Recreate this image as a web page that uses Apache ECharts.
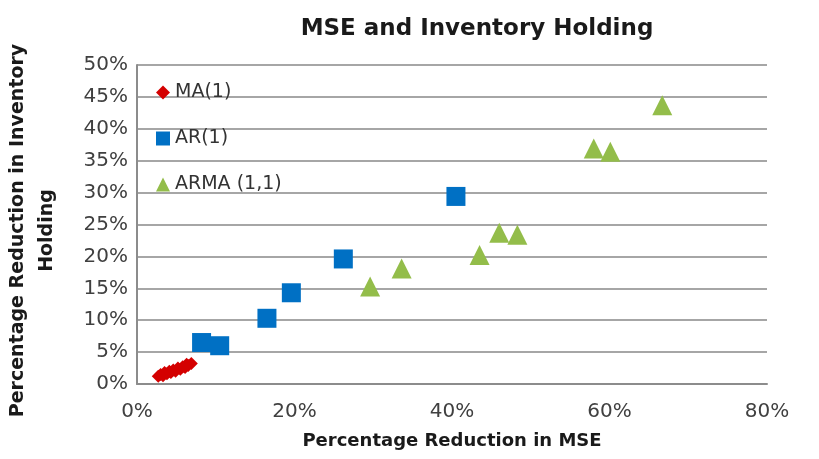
<!DOCTYPE html>
<html>
<head>
<meta charset="utf-8">
<script src="https://cdn.jsdelivr.net/npm/echarts@6/dist/echarts.min.js"></script>
<style>
html,body{margin:0;padding:0;background:#fff;}
#chart{width:819px;height:459px;}
</style>
</head>
<body>
<div id="chart"></div>
<script>
var titleText = 'MSE and Inventory Holding';
var xAxisName = 'Percentage Reduction in MSE';
var yAxisName = 'Percentage Reduction in Inventory\nHolding';
var seriesNames = ['MA(1)', 'AR(1)', 'ARMA (1,1)'];
var ma1 = [[2.7,1.2],[3.0,1.5],[3.3,1.3],[3.5,1.8],[3.8,1.6],[4.1,2.0],[4.3,1.8],[4.6,2.2],[4.9,2.0],[5.2,2.5],[5.5,2.3],[5.8,2.7],[6.1,2.6],[6.5,2.9],[6.9,3.2],[6.3,3.1]];
var ar1 = [[8.2,6.5],[10.5,6.0],[16.5,10.3],[19.6,14.3],[26.2,19.6],[40.5,29.4]];
var arma11 = [[29.6,15.3],[33.6,18.1],[43.5,20.2],[46.0,23.7],[48.3,23.4],[58.0,36.9],[60.1,36.4],[66.7,43.7]];

var font = 'DejaVu Sans';
var chart = echarts.init(document.getElementById('chart'));
chart.setOption({
  animation: false,
  backgroundColor: '#fff',
  title: {
    text: titleText, left: 472, top: 13, textAlign: 'center',
    textStyle: {fontFamily: font, fontSize: 23, fontWeight: 'bold', color: '#1a1a1a'}
  },
  legend: {
    orient: 'vertical', left: 151, top: 78, itemGap: 27, itemWidth: 14, itemHeight: 14,
    textStyle: {fontFamily: font, fontSize: 19, color: '#333'},
    data: seriesNames
  },
  grid: {left: 137, right: 52, top: 65, bottom: 75, outerBoundsMode: 'none', containLabel: false},
  xAxis: {
    type: 'value', min: 0, max: 80, interval: 20,
    name: xAxisName, nameLocation: 'middle', nameGap: 48,
    nameTextStyle: {fontFamily: font, fontSize: 18, fontWeight: 'bold', color: '#1a1a1a'},
    axisLine: {show: true, lineStyle: {color: '#8c8c8c', width: 2}},
    axisTick: {show: false},
    splitLine: {show: false},
    axisLabel: {formatter: '{value}%', fontFamily: font, fontSize: 20, color: '#404040', margin: 18}
  },
  yAxis: {
    type: 'value', min: 0, max: 50, interval: 5,
    name: yAxisName, nameLocation: 'middle', nameGap: 75, nameRotate: 90,
    nameTextStyle: {fontFamily: font, fontSize: 19, fontWeight: 'bold', color: '#1a1a1a', lineHeight: 29, padding: [0, 12, 0, 0]},
    axisLine: {show: true, lineStyle: {color: '#8c8c8c', width: 2}},
    axisTick: {show: false},
    splitLine: {show: true, lineStyle: {color: '#a6a6a6', width: 2}},
    axisLabel: {formatter: '{value}%', fontFamily: font, fontSize: 20, color: '#404040', margin: 9}
  },
  series: [
    {name: seriesNames[0], type: 'scatter', data: ma1, symbol: 'diamond', symbolSize: 13,
     itemStyle: {color: '#d40000', opacity: 1}},
    {name: seriesNames[1], type: 'scatter', data: ar1, symbol: 'rect', symbolSize: 19,
     itemStyle: {color: '#0070c4', opacity: 1}},
    {name: seriesNames[2], type: 'scatter', data: arma11, symbol: 'triangle', symbolSize: 20,
     itemStyle: {color: '#93bd4a', opacity: 1}}
  ]
});
</script>
</body>
</html>
